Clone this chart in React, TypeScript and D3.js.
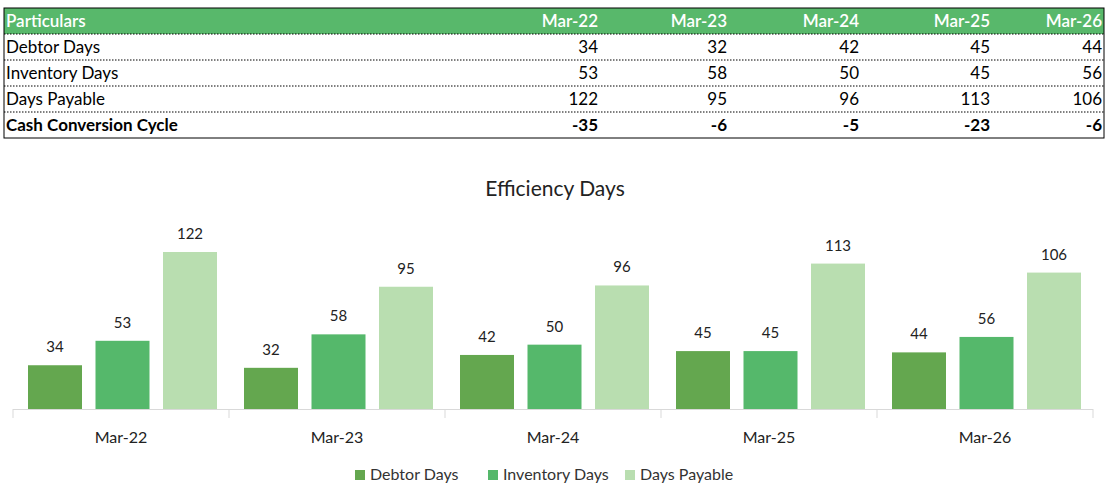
import * as d3 from "d3";

const periods = ["Mar-22", "Mar-23", "Mar-24", "Mar-25", "Mar-26"];
const debtorDays = [34, 32, 42, 45, 44];
const inventoryDays = [53, 58, 50, 45, 56];
const daysPayable = [122, 95, 96, 113, 106];
const cashCycle = [-35, -6, -5, -23, -6];

const seriesNames = ["Debtor Days", "Inventory Days", "Days Payable"];
const seriesValues = [debtorDays, inventoryDays, daysPayable];
const COLORS = ["#64a74f", "#55b86b", "#b9deb0"];

const W = 1106;
const H = 497;
const FONT = "Lato, 'Open Sans', sans-serif";

// table geometry
const TABLE = { left: 4, right: 1104, top: 8, rowH: 26 };
const colRight = [598, 727, 859, 990, 1102];
const tableRows = [
  { label: "Debtor Days", values: debtorDays, bold: false },
  { label: "Inventory Days", values: inventoryDays, bold: false },
  { label: "Days Payable", values: daysPayable, bold: false },
  { label: "Cash Conversion Cycle", values: cashCycle, bold: true },
];

// chart geometry
const CHART = { left: 13, right: 1093, baseline: 409, top: 230 };

export default function App() {
  const tableBottom = TABLE.top + TABLE.rowH * (tableRows.length + 1);

  const x0 = d3.scaleBand().domain(periods).range([CHART.left, CHART.right]);
  const x1 = d3
    .scaleBand()
    .domain(seriesNames)
    .range([15, x0.bandwidth() - 12])
    .paddingInner(0.2);
  const y = d3.scaleLinear().domain([0, 122]).range([CHART.baseline, 252]);

  const legendX = [355, 488, 625];

  return (
    <svg
      width={W}
      height={H}
      style={{ position: "absolute", left: 0, top: 0, background: "#fff" }}
      fontFamily={FONT}
    >
      {/* Table */}
      <rect x={TABLE.left} y={TABLE.top} width={TABLE.right - TABLE.left} height={TABLE.rowH} fill="#58b86b" />
      <text x={TABLE.left + 2} y={TABLE.top + 19} fontSize={17} fill="#fff" fontWeight={600}>Particulars</text>
      {periods.map((p, i) => (
        <text key={p} x={colRight[i]} y={TABLE.top + 19} fontSize={17} fill="#fff" fontWeight={600} textAnchor="end">
          {p}
        </text>
      ))}
      {tableRows.map((r, ri) => {
        const top = TABLE.top + TABLE.rowH * (ri + 1);
        return (
          <g key={r.label}>
            <line x1={TABLE.left} x2={TABLE.right} y1={top} y2={top} stroke="#000" strokeDasharray="1.5,1.5" />
            <text x={TABLE.left + 2} y={top + 19} fontSize={17} fontWeight={r.bold ? 700 : 400} fill="#000">
              {r.label}
            </text>
            {r.values.map((v, i) => (
              <text key={i} x={colRight[i]} y={top + 19} fontSize={17} fontWeight={r.bold ? 700 : 400} textAnchor="end">
                {v}
              </text>
            ))}
          </g>
        );
      })}
      <rect
        x={TABLE.left}
        y={TABLE.top}
        width={TABLE.right - TABLE.left}
        height={tableBottom - TABLE.top}
        fill="none"
        stroke="#000"
        strokeWidth={1}
      />

      {/* Chart */}
      <text x={555} y={196} fontSize={21} textAnchor="middle" fill="#222">Efficiency Days</text>
      {periods.map((p, i) => (
        <g key={p} transform={`translate(${x0(p)},0)`}>
          {seriesValues.map((vals, si) => {
            const bx = x1(seriesNames[si])!;
            const v = vals[i];
            return (
              <g key={si}>
                <rect x={bx} y={y(v)} width={x1.bandwidth()} height={CHART.baseline - y(v)} fill={COLORS[si]} />
                <text x={bx + x1.bandwidth() / 2} y={y(v) - 13} fontSize={15} textAnchor="middle" fill="#222">
                  {v}
                </text>
              </g>
            );
          })}
          <text x={x0.bandwidth() / 2} y={443} fontSize={16} textAnchor="middle" fill="#222">{p}</text>
        </g>
      ))}
      <line x1={CHART.left} x2={CHART.right} y1={CHART.baseline + 0.5} y2={CHART.baseline + 0.5} stroke="#d9d9d9" />
      {[...periods.map((p) => x0(p)!), CHART.right].map((t, i) => (
        <line key={i} x1={t} x2={t} y1={CHART.baseline} y2={CHART.baseline + 9} stroke="#d9d9d9" />
      ))}

      {/* Legend */}
      {seriesNames.map((n, i) => (
        <g key={n} transform={`translate(${legendX[i]},470)`}>
          <rect width={10} height={10} fill={COLORS[i]} />
          <text x={15} y={10} fontSize={16} fill="#333">{n}</text>
        </g>
      ))}
    </svg>
  );
}
